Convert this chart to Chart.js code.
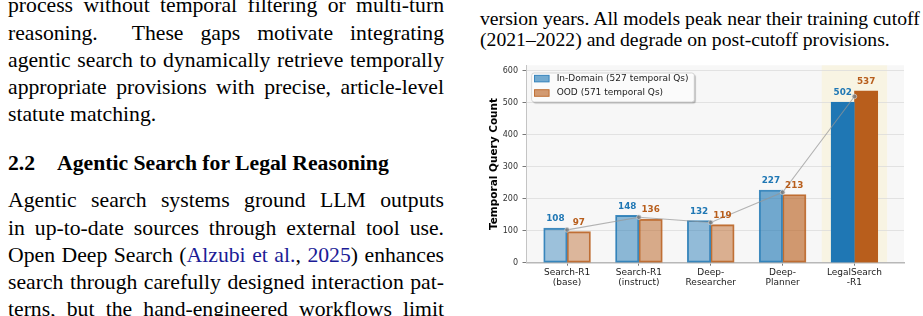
<!DOCTYPE html>
<html>
<head>
<meta charset="utf-8">
<script src="https://cdn.jsdelivr.net/npm/chart.js@4.4.1/dist/chart.umd.min.js"></script>
<style>
html, body { margin: 0; padding: 0; background: #fff; }
body { width: 923px; height: 316px; overflow: hidden; position: relative;
       font-family: "Liberation Serif", "Times New Roman", serif; color: #000; }
.col { position: absolute; width: 436px; }
.ln { white-space: nowrap; text-align: justify; text-align-last: justify; }
.ln.last { text-align: left; text-align-last: left; }
.body { font-size: 21.7px; line-height: 27.2px; }
#block1 { left: 8px; top: -7.7px; }
#block2 { left: 8px; top: 187.3px; }
#heading { left: 8px; top: 149.7px; font-size: 21.7px; line-height: 27.2px; font-weight: bold; height: 28px; }
#heading span { position: absolute; top: 0; white-space: nowrap; }
#caption { left: 480px; top: 7.7px; font-size: 19.7px; line-height: 21.2px; }
.cite { color: #1b1b96; }
#chartBox { position: absolute; left: 480px; top: 56px; width: 440px; height: 240px; }
</style>
</head>
<body>

<div class="col body" id="block1">
  <div class="ln">process without temporal filtering or multi-turn</div>
  <div class="ln">reasoning. &nbsp;These gaps motivate integrating</div>
  <div class="ln">agentic search to dynamically retrieve temporally</div>
  <div class="ln">appropriate provisions with precise, article-level</div>
  <div class="ln last">statute matching.</div>
</div>

<div class="col" id="heading">
  <span style="left:0">2.2</span>
  <span style="left:49px">Agentic Search for Legal Reasoning</span>
</div>

<div class="col body" id="block2">
  <div class="ln">Agentic search systems ground LLM outputs</div>
  <div class="ln">in up-to-date sources through external tool use.</div>
  <div class="ln">Open Deep Search (<span class="cite">Alzubi et al.</span>, <span class="cite">2025</span>) enhances</div>
  <div class="ln">search through carefully designed interaction pat-</div>
  <div class="ln">terns, but the hand-engineered workflows limit</div>
</div>

<div class="col" id="caption">
  <div class="ln">version years. All models peak near their training cutoff</div>
  <div class="ln last">(2021&ndash;2022) and degrade on post-cutoff provisions.</div>
</div>

<div id="chartBox"><canvas id="chartCanvas" width="440" height="240"></canvas></div>

<script>
// data
var categories = [['Search-R1', '(base)'], ['Search-R1', '(instruct)'], ['Deep-', 'Researcher'], ['Deep-', 'Planner'], ['LegalSearch', '-R1']]
var inDomain = [108, 148, 132, 227, 502]
var ood = [97, 136, 119, 213, 537]
var trendLine = [102.5, 142, 125.5, 220, 519.5]   // grey line through group centres
var seriesLabels = ['In-Domain (527 temporal Qs)', 'OOD (571 temporal Qs)']

// looks
var blue = [31, 119, 180]
var orange = [184, 94, 28]
var barAlpha = [0.42, 0.5, 0.47, 0.62, 1]
var font = '"DejaVu Sans", sans-serif'

function rgba(c, a) { return 'rgba(' + c[0] + ',' + c[1] + ',' + c[2] + ',' + a + ')' }

function points(values) {
    return values.map((v, i) => ({ x: i, y: v }))
}

// plot background + highlight band behind the last model
var backdrop = {
    id: 'backdrop',
    beforeDraw(chart) {
        var ctx = chart.ctx, a = chart.chartArea, x = chart.scales.x
        ctx.save()
        ctx.fillStyle = '#f7f7f7'
        ctx.fillRect(a.left, a.top, a.right - a.left, a.bottom - a.top)
        var last = categories.length - 1
        var x0 = x.getPixelForValue(last - 0.455)
        var x1 = x.getPixelForValue(last + 0.455)
        ctx.fillStyle = '#f8f4e3'
        ctx.fillRect(x0, a.top, x1 - x0, a.bottom - a.top)
        ctx.restore()
    }
}

// numbers on top of the bars
var barValues = {
    id: 'barValues',
    afterDatasetsDraw(chart) {
        var ctx = chart.ctx
        ctx.save()
        ctx.font = 'bold 8.8px ' + font
        ctx.textAlign = 'center'
        ctx.textBaseline = 'middle'
        var sets = [[inDomain, blue], [ood, orange]]
        sets.forEach((s, d) => {
            chart.getDatasetMeta(d).data.forEach((bar, i) => {
                ctx.fillStyle = rgba(s[1], 1)
                ctx.fillText(String(s[0][i]), bar.x, bar.y - 9)
            })
        })
        ctx.restore()
    }
}

// framed legend in the upper left of the plot
var boxLegend = {
    id: 'boxLegend',
    afterDraw(chart) {
        var ctx = chart.ctx, a = chart.chartArea
        var bx = a.left + 5.2, by = a.top + 7.7, bw = 162.6, bh = 29
        ctx.save()
        ctx.shadowColor = 'rgba(0,0,0,0.28)'
        ctx.shadowOffsetX = 1.5
        ctx.shadowOffsetY = 1.5
        ctx.shadowBlur = 1
        ctx.fillStyle = 'rgba(255,255,255,0.95)'
        ctx.beginPath()
        ctx.roundRect(bx, by, bw, bh, 2.5)
        ctx.fill()
        ctx.shadowColor = 'transparent'
        ctx.strokeStyle = '#cccccc'
        ctx.lineWidth = 0.8
        ctx.stroke()
        var cols = [blue, orange]
        ctx.font = '9px ' + font
        ctx.textBaseline = 'middle'
        seriesLabels.forEach((label, i) => {
            var cy = by + 5.6 + i * 14.4
            ctx.fillStyle = rgba(cols[i], 0.62)
            ctx.fillRect(bx + 2.8, cy - 3.3, 14.6, 6.6)
            ctx.strokeStyle = rgba(cols[i], 0.9)
            ctx.lineWidth = 0.9
            ctx.strokeRect(bx + 2.8, cy - 3.3, 14.6, 6.6)
            ctx.fillStyle = '#222'
            ctx.fillText(label, bx + 25, cy)
        })
        ctx.restore()
    }
}

var ctx = document.getElementById('chartCanvas')

new Chart(ctx, {
    type: 'bar',
    data: {
        datasets: [
            {
                label: seriesLabels[0],
                data: points(inDomain),
                backgroundColor: barAlpha.map(a => rgba(blue, a)),
                borderColor: barAlpha.map(a => rgba(blue, a < 1 ? 0.85 : 1)),
                borderWidth: 1.2,
                borderSkipped: false,
                barThickness: 23.4,
                order: 1
            },
            {
                label: seriesLabels[1],
                data: points(ood),
                backgroundColor: barAlpha.map(a => rgba(orange, a)),
                borderColor: barAlpha.map(a => rgba(orange, a < 1 ? 0.85 : 1)),
                borderWidth: 1.2,
                borderSkipped: false,
                barThickness: 23.4,
                order: 1
            },
            {
                type: 'line',
                label: 'trend',
                data: points(trendLine),
                borderColor: 'rgba(150,150,150,0.7)',
                borderWidth: 1.1,
                pointRadius: 2.3,
                pointBackgroundColor: 'rgba(125,125,125,0.85)',
                pointBorderColor: 'rgba(210,210,210,0.9)',
                pointBorderWidth: 0.8,
                tension: 0,
                order: 0
            }
        ]
    },
    options: {
        responsive: false,
        animation: false,
        devicePixelRatio: 1,
        layout: { padding: { top: 8, right: 16, bottom: 0, left: 0 } },
        plugins: {
            legend: { display: false },
            tooltip: { enabled: false }
        },
        scales: {
            x: {
                type: 'linear',
                offset: false,
                min: -0.565,
                max: 4.69,
                afterBuildTicks: s => { s.ticks = categories.map((c, i) => ({ value: i })) },
                afterFit: s => { s.height = 33.3 },
                grid: { display: true, offset: false, drawOnChartArea: false, drawTicks: true, tickLength: 3, tickColor: '#555', tickWidth: 0.8 },
                border: { display: true, color: '#b8b8b8', width: 1.5 },
                ticks: {
                    autoSkip: false,
                    maxRotation: 0,
                    padding: 1.5,
                    color: '#1a1a1a',
                    font: { family: font, size: 9, lineHeight: 1.12 },
                    callback: v => categories[v]
                }
            },
            y: {
                min: 0,
                max: 617,
                afterFit: s => { s.width = 46.5 },
                grid: {
                    color: '#dcdcdc',
                    lineWidth: 0.8,
                    borderDash: [3, 2],
                    tickLength: 4,
                    tickColor: '#555',
                    tickWidth: 0.8,
                    tickBorderDash: []
                },
                border: { display: true, color: '#c4c4c4', width: 1 },
                ticks: {
                    stepSize: 100,
                    includeBounds: false,
                    padding: 4.5,
                    color: '#333',
                    font: { family: font, size: 8 }
                },
                title: {
                    display: true,
                    text: 'Temporal Query Count',
                    color: '#000',
                    padding: { top: 7.7, bottom: 0 },
                    font: { family: font, size: 10.5, weight: 'bold' }
                }
            }
        }
    },
    plugins: [backdrop, barValues, boxLegend]
})
</script>
</body>
</html>
